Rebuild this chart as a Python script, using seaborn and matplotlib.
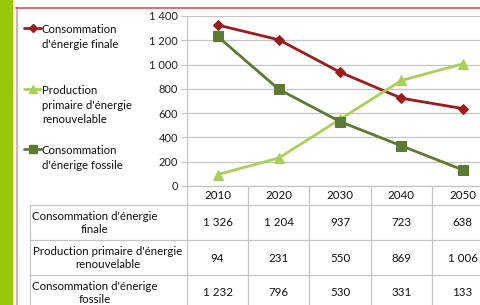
import matplotlib
matplotlib.use("Agg")
from matplotlib import pyplot as plt
from matplotlib.lines import Line2D
from matplotlib.patches import Rectangle
import seaborn as sns
import pandas as pd

years = ["2010", "2020", "2030", "2040", "2050"]
finale = [1326, 1204, 937, 723, 638]
renouvelable = [94, 231, 550, 869, 1006]
fossile = [1232, 796, 530, 331, 133]
series_labels = ["Consommation\nd'énergie finale",
                 "Production\nprimaire d'énergie\nrenouvelable",
                 "Consommation\nd'énerige fossile"]
row_labels = ["Consommation d'énergie\nfinale",
              "Production primaire d'énergie\nrenouvelable",
              "Consommation d'énerige\nfossile"]
y_ticks = [0, 200, 400, 600, 800, 1000, 1200, 1400]

W, H = 481, 305
RED = "#9c1c1c"
LIGHT = "#a8d05a"
OLIVE = "#5c7a32"
GRID = "#c4c4c4"


def fr(v):
    return f"{v:,}".replace(",", " ")


sns.set_style("white")
plt.rcParams["font.family"] = ["Lato", "DejaVu Sans"]

fig = plt.figure(figsize=(W / 100, H / 100), dpi=100)

# chart area: px 187..481 horizontally, 16..186 vertically
ax = fig.add_axes([187 / W, (H - 186) / H, (W - 187) / W, 170 / H])
df = pd.DataFrame({"pos": range(len(years)), "finale": finale,
                   "renouvelable": renouvelable, "fossile": fossile})
styles = [("finale", RED, "D", 5), ("renouvelable", LIGHT, "^", 6.5),
          ("fossile", OLIVE, "s", 6.5)]
for col, color, marker, ms in styles:
    sns.lineplot(data=df, x="pos", y=col, ax=ax, color=color, marker=marker,
                 markersize=ms, markeredgecolor=color, linewidth=2.0)

ax.set_xlim(-0.5, 4.3)
ax.set_ylim(0, 1400)
ax.set_yticks(y_ticks)
ax.set_yticklabels([fr(t) for t in y_ticks], fontsize=8, color="#222222")
ax.set_xticks([])
ax.set_xlabel("")
ax.set_ylabel("")
ax.yaxis.grid(True, color=GRID, linewidth=0.9)
ax.tick_params(axis="y", length=4.5, width=0.9, color=GRID, pad=2, left=True)
for s in ["top", "right"]:
    ax.spines[s].set_visible(False)
for s in ["left", "bottom"]:
    ax.spines[s].set_color(GRID)
    ax.spines[s].set_linewidth(0.9)

# data table below the chart, x in category units shared with chart
px_per_cat = (W - 187) / 4.8
tab = fig.add_axes([0, 0, 1, (H - 186) / H])
x0 = -0.5 - 187 / px_per_cat
tab.set_xlim(x0, x0 + W / px_per_cat)
tab.set_ylim(H - 186, 0)
tab.axis("off")
left_border = -0.5 - (187 - 30) / px_per_cat
right_edge = x0 + W / px_per_cat
lk = dict(color=GRID, linewidth=0.9)
for yy in [19, 54, 89]:
    tab.plot([left_border, right_edge], [yy, yy], **lk)
tab.plot([left_border, left_border], [19, H - 186], **lk)
for b in range(len(years)):
    tab.plot([b - 0.5, b - 0.5], [0, H - 186], **lk)

tk = dict(fontsize=8.3, color="#111111", ha="center", va="center")
for i, yr in enumerate(years):
    tab.text(i, 9.5, yr, **tk)
for r, vals in enumerate([finale, renouvelable, fossile]):
    for i, v in enumerate(vals):
        tab.text(i, 37 + 35 * r, fr(v), **tk)
label_px = [95, 108, 95]
for r, lab in enumerate(row_labels):
    tab.text(-0.5 - (187 - label_px[r]) / px_per_cat, 37 + 35 * r, lab,
             multialignment="center", linespacing=1.2, **tk)

# legend on the left
leg_y = [31, 92, 152]
for (col, color, marker, ms), lab, yy in zip(styles, series_labels, leg_y):
    fy = 1 - (yy - 3) / H
    fig.add_artist(Line2D([24 / W, 41 / W], [fy, fy], color=color,
                          linewidth=2.0, transform=fig.transFigure))
    fig.add_artist(Line2D([32.5 / W], [fy], color=color, marker=marker,
                          markersize=ms - 0.5, transform=fig.transFigure))
    fig.text(42 / W, 1 - (yy - 7) / H, lab, fontsize=8.2, color="#111111",
             ha="left", va="top", linespacing=1.4)

# decorative page frame
fig.add_artist(Rectangle((0, 0), 12 / W, 1, color="#98c80a",
                         transform=fig.transFigure, zorder=-1))
fig.add_artist(Line2D([16.5 / W, 16.5 / W], [0, 1 - 7 / H], color="#d9a0a0",
                      linewidth=1.2, transform=fig.transFigure))
fig.add_artist(Line2D([16 / W, 1], [1 - 7.5 / H, 1 - 7.5 / H],
                      color="#cf5a5a", linewidth=1.2, transform=fig.transFigure))

fig.savefig("out.png", dpi=100)
